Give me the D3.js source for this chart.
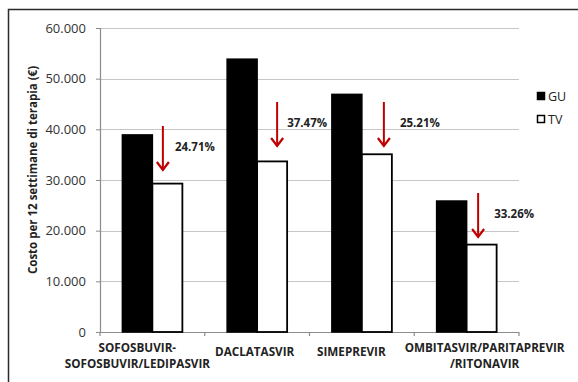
<!DOCTYPE html>
<html>
<head>
<meta charset="utf-8">
<script src="https://cdn.jsdelivr.net/npm/d3@7"></script>
<style>
  html, body { margin: 0; padding: 0; background: #fff; }
  svg { display: block; }
  text { font-family: "Open Sans", "Liberation Sans", sans-serif; }
</style>
</head>
<body>
<svg id="chart" width="578" height="382"></svg>
<script>
// Farmaci (righe dell'etichetta separate da "|")
const categories = [
  "SOFOSBUVIR-|SOFOSBUVIR/LEDIPASVIR",
  "DACLATASVIR",
  "SIMEPREVIR",
  "OMBITASVIR/PARITAPREVIR|/RITONAVIR"
];
const seriesNames = ["GU", "TV"];
const costGU = [38900, 53850, 46900, 25850];
const costTV = [29290, 33670, 35080, 17250];
const reductionLabels = ["24.71%", "37.47%", "25.21%", "33.26%"];
const yTicks = [0, 10000, 20000, 30000, 40000, 50000, 60000];
const yTickLabels = ["0", "10.000", "20.000", "30.000", "40.000", "50.000", "60.000"];
const yTitle = "Costo per 12 settimane di terapia (€)";

// Frecce rosse: punta (in €) e spostamento orizzontale dal centro del gruppo
const arrowTip = [31970, 36710, 36710, 18750];
const arrowShift = [10.5, 20, 22, 11.5];
const labelGap = [12, 10, 16, 16];
// Spostamento orizzontale delle etichette di categoria
const catLabelShift = [-15, -2.5, -10.5, 18];

const svg = d3.select("#chart");
const margin = { left: 100, right: 59, top: 28, bottom: 50 };
const W = 578, H = 382;
const plotW = W - margin.left - margin.right;
const plotH = H - margin.top - margin.bottom;

// Cornice esterna
svg.append("rect")
  .attr("x", 8.5).attr("y", 9.5)
  .attr("width", 620).attr("height", 420)
  .attr("fill", "none").attr("stroke", "#2b2b2b").attr("stroke-width", 1.5);

const g = svg.append("g").attr("transform", `translate(${margin.left},${margin.top})`);

const x0 = d3.scaleBand().domain(d3.range(categories.length)).range([0, plotW]).paddingInner(0).paddingOuter(0);
const barW = 30;
const y = d3.scaleLinear().domain([0, 60000]).range([plotH, 0]);

// Griglia orizzontale
g.append("g").selectAll("line")
  .data(yTicks.filter(v => v > 0))
  .join("line")
  .attr("x1", 0).attr("x2", plotW)
  .attr("y1", d => Math.round(y(d)) + 0.5).attr("y2", d => Math.round(y(d)) + 0.5)
  .attr("stroke", "#c6c6c6").attr("stroke-width", 1.2);

// Asse Y
const yAxis = d3.axisLeft(y).tickValues(yTicks)
  .tickFormat((d, i) => yTickLabels[i]).tickSize(4).tickPadding(10);
const gy = g.append("g").call(yAxis);
gy.select(".domain").attr("stroke", "#8c8c8c").attr("stroke-width", 1.2);
gy.selectAll(".tick line").attr("stroke", "#8c8c8c");
gy.selectAll(".tick text").attr("font-size", 13).attr("fill", "#333")
  .attr("font-family", "'Open Sans', sans-serif");

// Asse X (linea di base e tacche ai bordi delle categorie)
g.append("line").attr("x1", 0).attr("x2", plotW)
  .attr("y1", plotH + 0.5).attr("y2", plotH + 0.5)
  .attr("stroke", "#8c8c8c").attr("stroke-width", 1.2);
g.append("g").selectAll("line")
  .data(d3.range(categories.length + 1))
  .join("line")
  .attr("x1", i => i === categories.length ? plotW : x0(i))
  .attr("x2", i => i === categories.length ? plotW : x0(i))
  .attr("y1", plotH).attr("y2", plotH + 4)
  .attr("stroke", "#8c8c8c").attr("stroke-width", 1.2);

// Barre
const groups = g.selectAll(".grp")
  .data(categories.map((c, i) => ({ i, gu: costGU[i], tv: costTV[i] })))
  .join("g")
  .attr("transform", d => `translate(${x0(d.i) + x0.bandwidth() / 2},0)`);

groups.append("rect")
  .attr("x", -barW).attr("width", barW)
  .attr("y", d => y(d.gu)).attr("height", d => plotH - y(d.gu))
  .attr("fill", "#000").attr("stroke", "#000").attr("stroke-width", 1.5);
groups.append("rect")
  .attr("x", 0).attr("width", barW)
  .attr("y", d => y(d.tv)).attr("height", d => plotH - y(d.tv))
  .attr("fill", "#fff").attr("stroke", "#000").attr("stroke-width", 1.8);

// Frecce di riduzione e percentuali
const red = "#c00000";
groups.each(function (d) {
  const sel = d3.select(this);
  const ax = arrowShift[d.i];
  const tip = y(arrowTip[d.i]);
  const top = tip - 44;
  sel.append("line").attr("x1", ax).attr("x2", ax).attr("y1", top).attr("y2", tip - 1)
    .attr("stroke", red).attr("stroke-width", 2);
  sel.append("path")
    .attr("d", `M${ax - 6},${tip - 8} L${ax},${tip} L${ax + 6},${tip - 8}`)
    .attr("fill", "none").attr("stroke", red).attr("stroke-width", 2.2);
  sel.append("text")
    .attr("x", ax + labelGap[d.i]).attr("y", top + 21)
    .attr("dy", "0.35em")
    .attr("font-size", 11.5).attr("font-weight", "bold").attr("fill", "#222")
    .text(reductionLabels[d.i]);
});

// Etichette delle categorie
const xl = g.append("g").selectAll("text")
  .data(categories)
  .join("text")
  .attr("x", (d, i) => x0(i) + x0.bandwidth() / 2 + catLabelShift[i])
  .attr("text-anchor", "middle")
  .attr("font-size", 11.7).attr("font-weight", "bold").attr("fill", "#222");
xl.each(function (d) {
  const lines = d.split("|");
  const t = d3.select(this);
  const base = lines.length === 1 ? plotH + 24 : plotH + 20;
  lines.forEach((ln, k) => {
    t.append("tspan").attr("x", t.attr("x")).attr("y", base + k * 16).text(ln);
  });
});

// Titolo asse Y
svg.append("text")
  .attr("transform", "translate(37,170) rotate(-90)")
  .attr("text-anchor", "middle")
  .attr("font-size", 11.5).attr("font-weight", "bold").attr("fill", "#222")
  .text(yTitle);

// Legenda
const legend = svg.append("g").attr("transform", "translate(537,96)");
seriesNames.forEach((name, i) => {
  const row = legend.append("g").attr("transform", `translate(0,${i * 23})`);
  row.append("rect").attr("x", 0.5).attr("y", -3.5).attr("width", 7).attr("height", 7)
    .attr("fill", i === 0 ? "#000" : "#fff").attr("stroke", "#000").attr("stroke-width", 1.5);
  row.append("text").attr("x", 11).attr("y", 0).attr("dy", "0.36em")
    .attr("font-size", 12.5).attr("fill", "#222").text(name);
});
</script>
</body>
</html>
